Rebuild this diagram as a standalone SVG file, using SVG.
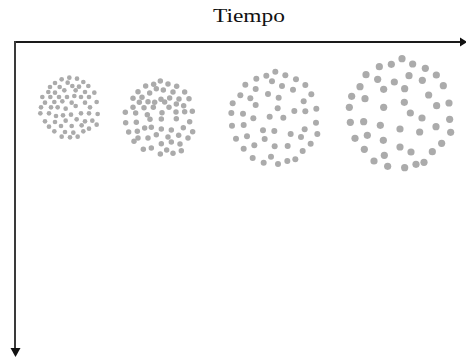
<svg xmlns="http://www.w3.org/2000/svg" width="466" height="360" viewBox="0 0 466 360">
<style>
.d circle{fill:#ababab}
.c1 circle{r:7px}
.c2 circle{r:8.2px}
.c3 circle{r:9px}
.c4 circle{r:10.8px}
.lbl{font-family:"Liberation Serif","Times New Roman",serif;font-size:18px;fill:#111}
</style>
<rect width="466" height="360" fill="#fff"/>
<text class="lbl" x="213" y="21.5" textLength="72" lengthAdjust="spacingAndGlyphs">Tiempo</text>
<g id="connectors">
<line x1="14" y1="42" x2="461" y2="42" stroke="#1a1a1a" stroke-width="2"/>
<polygon points="460,37.5 467,42 460,46.5" fill="#111"/>
<line x1="15" y1="41" x2="15" y2="349" stroke="#3a3a3a" stroke-width="2"/>
<polygon points="10.5,348 20.5,348 15.5,357" fill="#111"/>
</g>
<g id="cluster1" class="d c1" transform="translate(35,72) scale(0.3333)">
<circle cx="103" cy="17"/><circle cx="80" cy="22"/><circle cx="126" cy="20"/><circle cx="60" cy="33"/><circle cx="98" cy="32"/><circle cx="145" cy="30"/><circle cx="45" cy="45"/><circle cx="74" cy="45"/><circle cx="112" cy="42"/><circle cx="132" cy="44"/><circle cx="160" cy="42"/><circle cx="88" cy="55"/><circle cx="122" cy="55"/><circle cx="40" cy="60"/><circle cx="60" cy="62"/><circle cx="150" cy="60"/><circle cx="178" cy="62"/><circle cx="22" cy="75"/><circle cx="46" cy="75"/><circle cx="72" cy="75"/><circle cx="96" cy="75"/><circle cx="118" cy="72"/><circle cx="138" cy="75"/><circle cx="162" cy="75"/><circle cx="30" cy="92"/><circle cx="58" cy="90"/><circle cx="82" cy="88"/><circle cx="110" cy="92"/><circle cx="150" cy="92"/><circle cx="185" cy="90"/><circle cx="18" cy="106"/><circle cx="48" cy="106"/><circle cx="68" cy="106"/><circle cx="92" cy="110"/><circle cx="122" cy="102"/><circle cx="165" cy="106"/><circle cx="16" cy="124"/><circle cx="42" cy="124"/><circle cx="63" cy="132"/><circle cx="84" cy="130"/><circle cx="108" cy="128"/><circle cx="138" cy="124"/><circle cx="162" cy="124"/><circle cx="188" cy="126"/><circle cx="30" cy="148"/><circle cx="60" cy="150"/><circle cx="92" cy="146"/><circle cx="125" cy="142"/><circle cx="150" cy="148"/><circle cx="172" cy="146"/><circle cx="42" cy="164"/><circle cx="78" cy="162"/><circle cx="110" cy="162"/><circle cx="140" cy="160"/><circle cx="185" cy="158"/><circle cx="58" cy="178"/><circle cx="90" cy="180"/><circle cx="115" cy="182"/><circle cx="145" cy="178"/><circle cx="162" cy="170"/><circle cx="80" cy="194"/><circle cx="105" cy="196"/><circle cx="128" cy="194"/>
</g>
<g id="cluster2" class="d c2" transform="translate(118,78) scale(0.3333)">
<circle cx="127" cy="9"/><circle cx="107" cy="19"/><circle cx="150" cy="18"/><circle cx="83" cy="24"/><circle cx="176" cy="25"/><circle cx="115" cy="32"/><circle cx="136" cy="36"/><circle cx="60" cy="41"/><circle cx="95" cy="45"/><circle cx="165" cy="42"/><circle cx="200" cy="42"/><circle cx="45" cy="61"/><circle cx="72" cy="58"/><circle cx="129" cy="64"/><circle cx="155" cy="60"/><circle cx="183" cy="63"/><circle cx="213" cy="62"/><circle cx="64" cy="73"/><circle cx="90" cy="71"/><circle cx="110" cy="73"/><circle cx="140" cy="72"/><circle cx="175" cy="78"/><circle cx="45" cy="88"/><circle cx="78" cy="89"/><circle cx="106" cy="88"/><circle cx="153" cy="88"/><circle cx="197" cy="83"/><circle cx="22" cy="103"/><circle cx="53" cy="105"/><circle cx="88" cy="110"/><circle cx="132" cy="104"/><circle cx="174" cy="102"/><circle cx="200" cy="101"/><circle cx="223" cy="100"/><circle cx="55" cy="133"/><circle cx="96" cy="124"/><circle cx="130" cy="123"/><circle cx="175" cy="122"/><circle cx="23" cy="134"/><circle cx="215" cy="131"/><circle cx="32" cy="162"/><circle cx="58" cy="160"/><circle cx="80" cy="150"/><circle cx="100" cy="148"/><circle cx="130" cy="153"/><circle cx="160" cy="156"/><circle cx="196" cy="149"/><circle cx="224" cy="161"/><circle cx="60" cy="180"/><circle cx="90" cy="180"/><circle cx="115" cy="170"/><circle cx="150" cy="177"/><circle cx="182" cy="172"/><circle cx="210" cy="180"/><circle cx="48" cy="190"/><circle cx="130" cy="197"/><circle cx="160" cy="192"/><circle cx="186" cy="198"/><circle cx="76" cy="214"/><circle cx="100" cy="210"/><circle cx="127" cy="228"/><circle cx="146" cy="216"/><circle cx="165" cy="226"/><circle cx="190" cy="218"/>
</g>
<g id="cluster3" class="d c3" transform="translate(222,66) scale(0.3333)">
<circle cx="160" cy="17"/><circle cx="133" cy="29"/><circle cx="190" cy="28"/><circle cx="103" cy="38"/><circle cx="150" cy="46"/><circle cx="222" cy="40"/><circle cx="70" cy="56"/><circle cx="180" cy="60"/><circle cx="250" cy="57"/><circle cx="101" cy="69"/><circle cx="213" cy="71"/><circle cx="55" cy="88"/><circle cx="138" cy="84"/><circle cx="170" cy="95"/><circle cx="268" cy="85"/><circle cx="85" cy="97"/><circle cx="245" cy="106"/><circle cx="32" cy="112"/><circle cx="101" cy="117"/><circle cx="167" cy="127"/><circle cx="217" cy="135"/><circle cx="250" cy="136"/><circle cx="283" cy="128"/><circle cx="28" cy="141"/><circle cx="63" cy="143"/><circle cx="94" cy="157"/><circle cx="143" cy="152"/><circle cx="184" cy="155"/><circle cx="282" cy="170"/><circle cx="30" cy="179"/><circle cx="65" cy="177"/><circle cx="123" cy="193"/><circle cx="157" cy="195"/><circle cx="206" cy="204"/><circle cx="248" cy="190"/><circle cx="286" cy="204"/><circle cx="42" cy="218"/><circle cx="75" cy="211"/><circle cx="128" cy="219"/><circle cx="237" cy="213"/><circle cx="266" cy="233"/><circle cx="65" cy="248"/><circle cx="97" cy="238"/><circle cx="158" cy="241"/><circle cx="197" cy="240"/><circle cx="242" cy="255"/><circle cx="92" cy="276"/><circle cx="147" cy="272"/><circle cx="196" cy="285"/><circle cx="220" cy="280"/><circle cx="125" cy="290"/><circle cx="168" cy="294"/>
</g>
<g id="cluster4" class="d c4" transform="translate(340,52) scale(0.3333)">
<circle cx="186" cy="20"/><circle cx="154" cy="37"/><circle cx="118" cy="44"/><circle cx="218" cy="36"/><circle cx="256" cy="49"/><circle cx="78" cy="68"/><circle cx="289" cy="69"/><circle cx="113" cy="82"/><circle cx="163" cy="90"/><circle cx="207" cy="71"/><circle cx="247" cy="85"/><circle cx="60" cy="104"/><circle cx="310" cy="101"/><circle cx="131" cy="112"/><circle cx="194" cy="110"/><circle cx="35" cy="133"/><circle cx="75" cy="140"/><circle cx="266" cy="129"/><circle cx="28" cy="166"/><circle cx="131" cy="166"/><circle cx="193" cy="151"/><circle cx="290" cy="161"/><circle cx="327" cy="153"/><circle cx="211" cy="183"/><circle cx="246" cy="198"/><circle cx="329" cy="202"/><circle cx="31" cy="211"/><circle cx="71" cy="209"/><circle cx="121" cy="220"/><circle cx="180" cy="231"/><circle cx="239" cy="240"/><circle cx="288" cy="224"/><circle cx="332" cy="241"/><circle cx="45" cy="259"/><circle cx="82" cy="250"/><circle cx="130" cy="265"/><circle cx="305" cy="274"/><circle cx="73" cy="292"/><circle cx="180" cy="285"/><circle cx="213" cy="300"/><circle cx="277" cy="299"/><circle cx="102" cy="327"/><circle cx="133" cy="310"/><circle cx="143" cy="343"/><circle cx="194" cy="347"/><circle cx="228" cy="337"/><circle cx="252" cy="331"/>
</g>
</svg>
